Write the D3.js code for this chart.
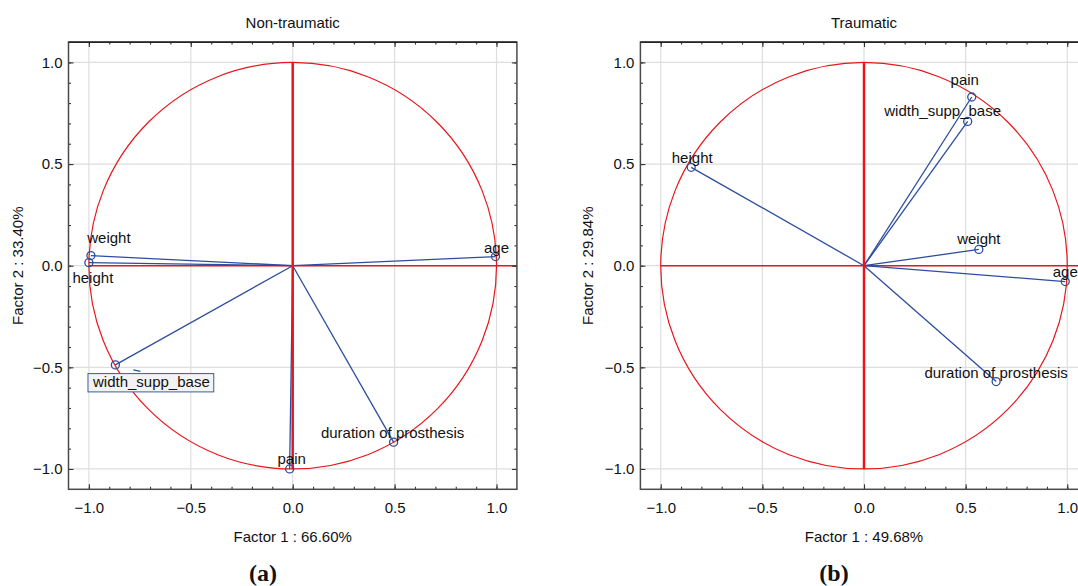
<!DOCTYPE html>
<html>
<head>
<meta charset="utf-8">
<script src="https://cdn.jsdelivr.net/npm/d3@7"></script>
<style>
  body { margin: 0; background: #fff; }
  svg { display: block; }
  text { font-family: "Liberation Sans", Arial, sans-serif; fill: #111; }
</style>
</head>
<body>
<script>
var width = 1078;
var height = 586;

// variables (same order in both panels)
var variables = ["weight", "height", "width_supp_base", "pain", "duration of prosthesis", "age"];

// Non-traumatic loadings
var factor1A = [-0.99, -1.0, -0.87, -0.015, 0.495, 0.995];
var factor2A = [0.05, 0.015, -0.488, -1.0, -0.868, 0.045];

// Traumatic loadings
var factor1B = [0.565, -0.85, 0.51, 0.53, 0.65, 0.99];
var factor2B = [0.08, 0.484, 0.71, 0.83, -0.57, -0.078];

var majorTicks = [-1.0, -0.5, 0.0, 0.5, 1.0];
var minorTicks = d3.range(-10, 11).map(function(i){ return i / 10; });

var red = "#e8161c";
var blue = "#2c4d9e";

// label placement around each point, px (dx, dy of the text baseline centre)
var panels = [
  { title: "Non-traumatic", xTitle: "Factor 1 : 66.60%", yTitle: "Factor 2 : 33.40%",
    f1: factor1A, f2: factor2A, x0: 68.5, x1: 516.9, yTitleX: 23, caption: "(a)", capX: 263,
    offs: [[18, -13], [4, 20], [36, 22], [2, -5], [-1, -4], [1, -4]], boxed: 2 },
  { title: "Traumatic", xTitle: "Factor 1 : 49.68%", yTitle: "Factor 2 : 29.84%",
    f1: factor1B, f2: factor2B, x0: 640.4, x1: 1087.6, yTitleX: 593, caption: "(b)", capX: 834,
    offs: [[0, -5], [1, -4], [-25, -5], [-7, -11.5], [0, -3.5], [0, -4.5]], boxed: -1 }
];

var svg = d3.select("body").append("svg")
  .attr("width", width)
  .attr("height", height);

panels.forEach(function(p){
  var x = d3.scaleLinear().domain([-1.1, 1.1]).range([p.x0, p.x1]);
  var y = d3.scaleLinear().domain([-1.1, 1.1]).range([489.3, 42.1]);
  var g = svg.append("g");
  var left = x.range()[0], right = x.range()[1];
  var top = y.range()[1], bottom = y.range()[0];
  var cxm = (left + right) / 2;

  // grid
  g.selectAll(".gx").data(majorTicks).enter().append("line")
    .attr("x1", function(d){ return x(d); }).attr("x2", function(d){ return x(d); })
    .attr("y1", top).attr("y2", bottom)
    .attr("stroke", "#dedede").attr("stroke-width", 1.2);
  g.selectAll(".gy").data(majorTicks).enter().append("line")
    .attr("y1", function(d){ return y(d); }).attr("y2", function(d){ return y(d); })
    .attr("x1", left).attr("x2", right)
    .attr("stroke", "#dedede").attr("stroke-width", 1.2);

  // unit circle and axes
  g.append("ellipse")
    .attr("cx", x(0)).attr("cy", y(0))
    .attr("rx", x(1) - x(0)).attr("ry", y(0) - y(1))
    .attr("fill", "none").attr("stroke", red).attr("stroke-width", 1.2);
  g.append("line")
    .attr("x1", x(-1)).attr("x2", x(1.1)).attr("y1", y(0)).attr("y2", y(0))
    .attr("stroke", red).attr("stroke-width", 1.4);

  var pts = variables.map(function(v, i){ return { name: v, a: p.f1[i], b: p.f2[i], off: p.offs[i], i: i }; });

  // vectors
  g.selectAll(".vec").data(pts).enter().append("line")
    .attr("x1", x(0)).attr("y1", y(0))
    .attr("x2", function(d){ return x(d.a); })
    .attr("y2", function(d){ return y(d.b); })
    .attr("stroke", blue).attr("stroke-width", 1.3);

  g.append("line")
    .attr("x1", x(0)).attr("x2", x(0)).attr("y1", y(1)).attr("y2", y(-1))
    .attr("stroke", red).attr("stroke-width", 2.5);

  g.selectAll(".pt").data(pts).enter().append("circle")
    .attr("cx", function(d){ return x(d.a); })
    .attr("cy", function(d){ return y(d.b); })
    .attr("r", 4)
    .attr("fill", "none").attr("stroke", blue).attr("stroke-width", 1.3);

  // labels
  pts.forEach(function(d){
    var lx = x(d.a) + d.off[0], ly = y(d.b) + d.off[1];
    if (d.i === p.boxed) {
      g.append("line")
        .attr("x1", x(d.a) + 18).attr("y1", y(d.b) + 5)
        .attr("x2", x(d.a) + 25).attr("y2", y(d.b) + 6.5)
        .attr("stroke", blue).attr("stroke-width", 1.2);
      var box = g.append("rect").attr("fill", "#f3f3f3").attr("stroke", "#3a5aa8").attr("stroke-width", 1);
      var t = g.append("text").attr("x", lx).attr("y", ly)
        .attr("text-anchor", "middle").attr("font-size", 15).text(d.name);
      var bb = t.node().getBBox();
      box.attr("x", bb.x - 4).attr("y", ly - 13.3).attr("width", bb.width + 8).attr("height", 18.3);
    } else {
      g.append("text").attr("x", lx).attr("y", ly)
        .attr("text-anchor", "middle").attr("font-size", 15).text(d.name);
    }
  });

  // axes (ticks inside the frame)
  var fmt = d3.format(".1f");
  function style(a){
    a.select(".domain").remove();
    a.selectAll(".tick line").attr("stroke", "#333").attr("stroke-width", 1.1);
    a.selectAll("text").attr("font-size", 15).attr("font-family", "Liberation Sans, Arial, sans-serif").attr("fill", "#111");
  }
  g.append("g").attr("transform", "translate(0," + bottom + ")")
    .call(d3.axisBottom(x).tickValues(minorTicks).tickSize(-2.5).tickFormat("")).call(style);
  g.append("g").attr("transform", "translate(0," + bottom + ")")
    .call(d3.axisBottom(x).tickValues(majorTicks).tickSize(-5).tickPadding(13).tickFormat(fmt)).call(style);
  g.append("g").attr("transform", "translate(0," + top + ")")
    .call(d3.axisTop(x).tickValues(minorTicks).tickSize(-2.5).tickFormat("")).call(style);
  g.append("g").attr("transform", "translate(0," + top + ")")
    .call(d3.axisTop(x).tickValues(majorTicks).tickSize(-5).tickFormat("")).call(style);
  g.append("g").attr("transform", "translate(" + left + ",0)")
    .call(d3.axisLeft(y).tickValues(minorTicks).tickSize(-2.5).tickFormat("")).call(style);
  g.append("g").attr("transform", "translate(" + left + ",0)")
    .call(d3.axisLeft(y).tickValues(majorTicks).tickSize(-5).tickPadding(6).tickFormat(fmt)).call(style);
  g.append("g").attr("transform", "translate(" + right + ",0)")
    .call(d3.axisRight(y).tickValues(minorTicks).tickSize(-2.5).tickFormat("")).call(style);
  g.append("g").attr("transform", "translate(" + right + ",0)")
    .call(d3.axisRight(y).tickValues(majorTicks).tickSize(-5).tickFormat("")).call(style);

  // frame
  g.append("rect")
    .attr("x", left).attr("y", top).attr("width", right - left).attr("height", bottom - top)
    .attr("fill", "none").attr("stroke", "#4a4a4a").attr("stroke-width", 1.5);
  g.append("line").attr("x1", left).attr("x2", right).attr("y1", top).attr("y2", top)
    .attr("stroke", "#111").attr("stroke-width", 1.3);

  // titles
  g.append("text").attr("x", cxm).attr("y", 28).attr("text-anchor", "middle")
    .attr("font-size", 15).text(p.title);
  g.append("text").attr("x", cxm).attr("y", 542).attr("text-anchor", "middle")
    .attr("font-size", 15).text(p.xTitle);
  g.append("text").attr("transform", "translate(" + p.yTitleX + "," + y(0) + ") rotate(-90)")
    .attr("text-anchor", "middle").attr("font-size", 15).text(p.yTitle);
  g.append("text").attr("x", p.capX).attr("y", 581).attr("text-anchor", "middle")
    .attr("font-size", 24).attr("font-weight", "bold")
    .style("font-family", "'Liberation Serif', 'DejaVu Serif', serif")
    .text(p.caption);
});
</script>
</body>
</html>
